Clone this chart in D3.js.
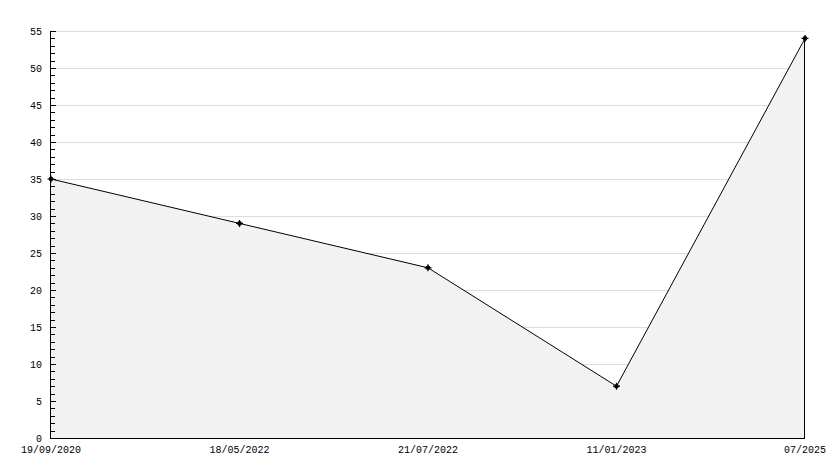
<!DOCTYPE html>
<html><head><meta charset="utf-8">
<script src="https://cdn.jsdelivr.net/npm/d3@7"></script>
<style>html,body{margin:0;padding:0;background:#fff;}svg{display:block;}</style>
</head><body>
<script>
const categories = ["19/09/2020", "18/05/2022", "21/07/2022", "11/01/2023", "07/2025"];
const values = [35, 29, 23, 7, 54];
const yTicks = [0, 5, 10, 15, 20, 25, 30, 35, 40, 45, 50, 55];

const W = 834, H = 468;
const m = {left: 51, right: 29, top: 31, bottom: 30};
const svg = d3.select("body").append("svg").attr("width", W).attr("height", H);
const x = d3.scalePoint().domain(categories).range([m.left, W - m.right]);
const y = d3.scaleLinear().domain([0, 55]).range([H - m.bottom, m.top]);
const font = "'Liberation Mono', 'DejaVu Sans Mono', monospace";

// gridlines
svg.append("g").selectAll("line").data(yTicks.filter(d => d > 0)).join("line")
  .attr("x1", m.left).attr("x2", W - m.right)
  .attr("y1", d => Math.round(y(d)) + 0.5).attr("y2", d => Math.round(y(d)) + 0.5)
  .attr("stroke", "#dddddd").attr("stroke-width", 1).attr("shape-rendering", "crispEdges");

// area
const pts = categories.map((c, i) => [x(c), y(values[i])]);
const area = d3.area().x(d => d[0]).y0(y(0)).y1(d => d[1]);
svg.append("path").datum(pts).attr("d", area).attr("fill", "#f2f2f2");

// right edge of area
svg.append("line").attr("x1", x(categories[categories.length - 1]) - 0.5).attr("x2", x(categories[categories.length - 1]) - 0.5)
  .attr("y1", y(values[values.length - 1])).attr("y2", y(0))
  .attr("stroke", "#000").attr("shape-rendering", "crispEdges");

// line
svg.append("path").datum(pts).attr("d", d3.line()).attr("fill", "none").attr("stroke", "#000").attr("stroke-width", 1);

// y axis
const yAxis = d3.axisRight(y).tickValues(d3.range(0, 56, 1)).tickSize(4).tickFormat("");
const gy = svg.append("g").attr("transform", `translate(${m.left - 0.5},0)`).call(yAxis);
gy.select(".domain").remove();
gy.selectAll(".tick line").attr("stroke", "#000").attr("x2", d => d % 5 === 0 ? 5 : 4).attr("shape-rendering", "crispEdges");
svg.append("line").attr("x1", m.left - 0.5).attr("x2", m.left - 0.5).attr("y1", y(55)).attr("y2", y(0) + 0.5)
  .attr("stroke", "#000").attr("shape-rendering", "crispEdges");
svg.append("g").selectAll("text").data(yTicks).join("text")
  .attr("x", 42).attr("y", d => y(d) + 3.5).attr("text-anchor", "end")
  .attr("font-family", font).attr("font-size", 10).attr("fill", "#000").text(d => d);

// x axis
svg.append("line").attr("x1", m.left - 1).attr("x2", W - m.right).attr("y1", y(0) + 0.5).attr("y2", y(0) + 0.5)
  .attr("stroke", "#000").attr("shape-rendering", "crispEdges");
svg.append("g").selectAll("text").data(categories).join("text")
  .attr("x", d => x(d)).attr("y", 453).attr("text-anchor", "middle")
  .attr("font-family", font).attr("font-size", 10).attr("fill", "#000").text(d => d);

// markers
const mk = svg.append("g").selectAll("g").data(pts).join("g").attr("transform", d => `translate(${d[0]},${d[1]})`);
mk.append("circle").attr("r", 2.3).attr("fill", "#000");
mk.append("path").attr("d", "M-3.5,0H3.5M0,-3.5V3.5").attr("stroke", "#000").attr("stroke-width", 1.2);
</script>
</body></html>
